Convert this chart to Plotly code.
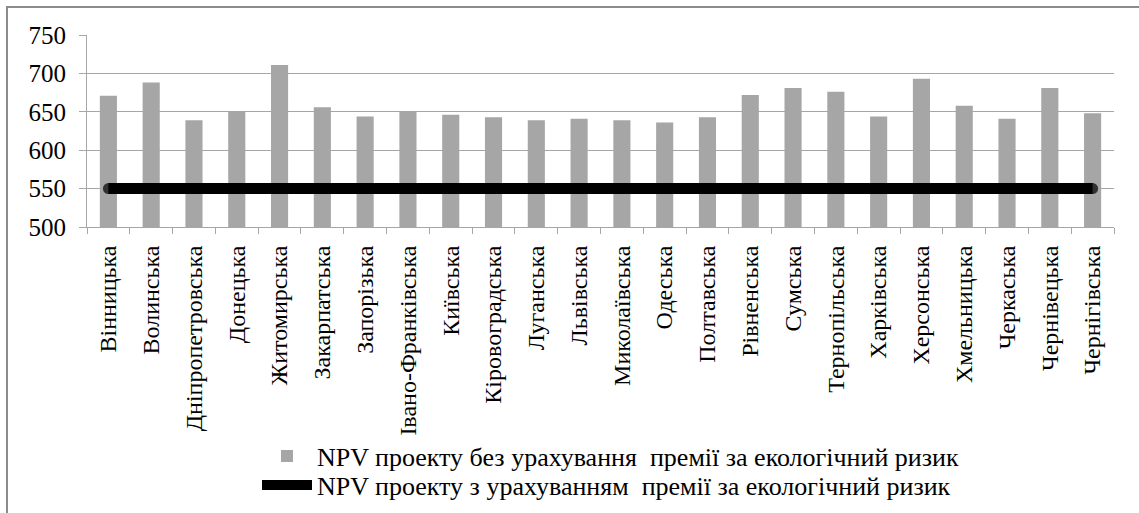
import plotly.graph_objects as go

regions = ["Вінницька", "Волинська", "Дніпропетровська", "Донецька", "Житомирська",
           "Закарпатська", "Запорізька", "Івано-Франківська", "Київська", "Кіровоградська",
           "Луганська", "Львівська", "Миколаївська", "Одеська", "Полтавська",
           "Рівненська", "Сумська", "Тернопільська", "Харківська", "Херсонська",
           "Хмельницька", "Черкаська", "Чернівецька", "Чернігівська"]
npv_without = [671, 688, 639, 650, 711, 656, 644, 650, 646, 643, 639, 641,
               639, 636, 643, 672, 681, 676, 644, 693, 658, 641, 681, 648]
npv_with = [550] * 24
name_without = "NPV проекту без урахування  премії за екологічний ризик"
name_with = "NPV проекту з урахуванням  премії за екологічний ризик"
y_ticks = [500, 550, 600, 650, 700, 750]

W, H = 1139, 513
L, R, T, B = 87, 25, 35, 286
pw, ph = W - L - R, H - T - B

def px(x):
    return (x - L) / pw

def py(y):
    return (H - B - y) / ph

fig = go.Figure()
fig.add_trace(go.Bar(x=regions, y=npv_without, name=name_without, legend="legend",
                     marker=dict(color="#a6a6a6", line=dict(width=0))))
sizes = [11] + [0] * (len(regions) - 2) + [11]
fig.add_trace(go.Scatter(x=regions, y=npv_with, name=name_with, mode="lines+markers",
                         legend="legend2",
                         line=dict(color="black", width=11),
                         marker=dict(color="black", size=sizes, line=dict(width=0))))

legend_common = dict(xanchor="left", yanchor="middle",
                     font=dict(size=26, family="Liberation Serif", color="black"),
                     bgcolor="rgba(0,0,0,0)", itemwidth=50)
fig.update_layout(
    width=W, height=H,
    margin=dict(l=L, r=R, t=T, b=B, autoexpand=False),
    paper_bgcolor="white", plot_bgcolor="white",
    font=dict(family="Liberation Serif", color="black"),
    bargap=0.6,
    showlegend=True,
    legend=dict(x=px(257), y=py(456), **legend_common),
    legend2=dict(x=px(257), y=py(485), **legend_common),
    shapes=[dict(type="rect", xref="paper", yref="paper",
                 x0=px(7), x1=px(1160), y0=py(530), y1=py(7),
                 line=dict(color="#8c8c8c", width=2), layer="below")],
)
fig.update_yaxes(range=[500, 750], tickvals=y_ticks, showgrid=True, gridcolor="#a6a6a6",
                 gridwidth=1, showline=True, linecolor="#a6a6a6", linewidth=1,
                 ticks="outside", ticklen=7, tickcolor="#a6a6a6", ticklabelstandoff=8,
                 tickfont=dict(size=25, family="Liberation Serif"), zeroline=False)
fig.update_xaxes(range=[-0.5, len(regions) - 0.5], autorange=False,
                 showline=True, linecolor="#a6a6a6", linewidth=1, tickson="boundaries",
                 ticks="outside", ticklen=6, tickcolor="#a6a6a6", tickangle=-90,
                 ticklabelstandoff=8,
                 tickfont=dict(size=24, family="Liberation Serif"), showgrid=False)

fig.write_html("out.html", config={"displayModeBar": False},
               post_script="document.body.style.margin='0';")
